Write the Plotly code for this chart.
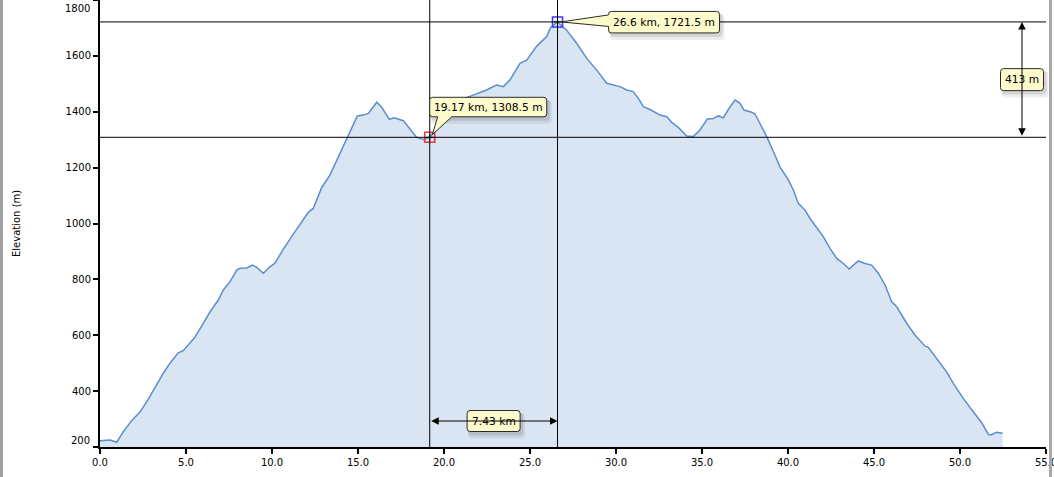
import plotly.graph_objects as go

# ---------------- data ----------------
distance_km = [
    0.0, 0.58, 0.97, 1.36, 1.84, 2.33, 2.81, 3.29, 3.68, 4.07, 4.55, 4.84, 5.14, 5.52,
    5.91, 6.40, 6.88, 7.17, 7.56, 7.95, 8.14, 8.53, 8.86, 9.11, 9.50, 9.88, 10.17,
    10.66, 11.24, 11.82, 12.11, 12.40, 12.89, 13.37, 13.95, 14.44, 14.96, 15.31, 15.60,
    16.09, 16.38, 16.82, 17.09, 17.64, 17.93, 18.41, 18.80, 19.17, 19.6, 20.0, 20.5,
    21.0, 21.5, 22.0, 22.48, 22.67, 23.06, 23.45, 23.84, 24.42, 24.81, 25.39, 25.97,
    26.2, 26.6, 27.13, 27.71, 28.30, 28.88, 29.46, 29.84, 30.23, 30.62, 31.0, 31.30,
    31.59, 31.98, 32.56, 32.95, 33.24, 33.62, 34.11, 34.49, 34.88, 35.31, 35.66, 35.95,
    36.24, 36.53, 36.92, 37.21, 37.44, 37.89, 38.08, 38.37, 38.76, 39.24, 39.53, 40.02,
    40.31, 40.60, 40.99, 41.28, 41.76, 42.05, 42.44, 42.83, 43.22, 43.56, 43.80, 44.09,
    44.48, 44.86, 45.25, 45.64, 46.03, 46.32, 46.90, 47.38, 47.97, 48.16, 48.64, 49.22,
    49.61, 50.19, 50.77, 51.26, 51.65, 51.84, 52.13, 52.48,
]
elevation_m = [
    222, 225, 217, 255, 294, 326, 371, 422, 464, 500, 537, 545, 565, 593,
    633, 684, 726, 762, 792, 833, 840, 841, 851, 843, 822, 845, 858,
    908, 962, 1012, 1040, 1054, 1129, 1173, 1251, 1319, 1385, 1388, 1394,
    1434, 1416, 1373, 1378, 1368, 1346, 1308, 1301, 1308.5, 1345, 1385, 1425,
    1445, 1455, 1466, 1478, 1484, 1496, 1490, 1514, 1573, 1585, 1635, 1669,
    1702, 1721.5, 1692, 1645, 1591, 1549, 1502, 1496, 1490, 1478, 1472, 1448,
    1418, 1408, 1388, 1382, 1362, 1344, 1313, 1311, 1335, 1374, 1376, 1385,
    1378, 1408, 1442, 1430, 1406, 1398, 1392, 1358, 1311, 1245, 1203, 1156,
    1120, 1072, 1048, 1018, 977, 953, 911, 875, 857, 837, 851, 866,
    857, 851, 822, 780, 720, 702, 643, 601, 561, 557, 517, 469,
    428, 374, 326, 287, 245, 244, 253, 249,
]

x_tick_vals = [0, 5, 10, 15, 20, 25, 30, 35, 40, 45, 50, 55]
x_tick_text = ["0.0", "5.0", "10.0", "15.0", "20.0", "25.0", "30.0", "35.0",
               "40.0", "45.0", "50.0", "55.0"]
y_tick_vals = [200, 400, 600, 800, 1000, 1200, 1400, 1600, 1800]
y_tick_text = ["200", "400", "600", "800", "1000", "1200", "1400", "1600", "1800"]

point_a_km, point_a_m = 19.17, 1308.5
point_b_km, point_b_m = 26.6, 1721.5

label_a = f"{point_a_km} km, {point_a_m} m"
label_b = f"{point_b_km} km, {point_b_m} m"
dist_label = f"{point_b_km - point_a_km:.2f} km"
rise_label = f"{point_b_m - point_a_m:.0f} m"

x_range = [0, 55]
y_range = [200, 1800]

# ---------------- style ----------------
FONT = "DejaVu Sans"
LINE_BLUE = "#5a8ed0"
FILL_BLUE = "#dae5f3"
BOX_YELLOW = "#fdfacb"
BOX_EDGE = "#2b2b2b"

W, H = 1054, 477
ML, MR, MT, MB = 100, 8, 0, 30
PW, PH = W - ML - MR, H - MT - MB


def px_to_paper_x(px):
    return (px - ML) / PW


def px_to_paper_y(py):
    return 1 - (py - MT) / PH


def box_path(L, R, B, T, r=3.0, wedge=None):
    s = f"M{L + r},{T} L{R - r},{T} Q{R},{T} {R},{T - r} L{R},{B + r} Q{R},{B} {R - r},{B} "
    if wedge and wedge[0] == "bottom":
        _, w1, w2, tx, ty = wedge
        s += f"L{w2},{B} L{tx},{ty} L{w1},{B} "
    s += f"L{L + r},{B} Q{L},{B} {L},{B + r} "
    if wedge and wedge[0] == "left":
        _, wb, wt, tx, ty = wedge
        s += f"L{L},{wb} L{tx},{ty} L{L},{wt} "
    s += f"L{L},{T - r} Q{L},{T} {L + r},{T} Z"
    return s


fig = go.Figure()

fig.add_trace(go.Scatter(
    x=distance_km, y=elevation_m, mode="lines",
    line=dict(color=LINE_BLUE, width=1.5),
    fill="tozeroy", fillcolor=FILL_BLUE,
    hoverinfo="skip", showlegend=False,
))

shapes = []

# crosshair lines
for xv in (point_a_km, point_b_km):
    shapes.append(dict(type="line", xref="x", yref="paper", x0=xv, x1=xv, y0=0, y1=1,
                       line=dict(color="black", width=1), layer="above"))
for yv in (point_a_m, point_b_m):
    shapes.append(dict(type="line", xref="paper", yref="y", x0=0, x1=1, y0=yv, y1=yv,
                       line=dict(color="black", width=1), layer="above"))


def add_box(xref, yref, xa, ya, L, R, B, T, wedge=None):
    # soft shadow
    for dx, dy, grow, alpha in ((3, -5, 2, 0.07), (2, -3, 1, 0.10)):
        shapes.append(dict(
            type="path", xref=xref, yref=yref, xsizemode="pixel", ysizemode="pixel",
            xanchor=xa, yanchor=ya,
            path=box_path(L + dx - grow, R + dx + grow, B + dy - grow, T + dy + grow, r=4),
            fillcolor=f"rgba(0,0,0,{alpha})", line=dict(width=0), layer="above"))
    shapes.append(dict(
        type="path", xref=xref, yref=yref, xsizemode="pixel", ysizemode="pixel",
        xanchor=xa, yanchor=ya, path=box_path(L, R, B, T, wedge=wedge),
        fillcolor=BOX_YELLOW, line=dict(color=BOX_EDGE, width=1), layer="above"))


# callout A (19.17 km)
add_box("x", "y", point_a_km, point_a_m, 0, 117, 20.5, 40,
        wedge=("bottom", 8, 22, 2.5, 2.5))
# callout B (26.6 km)
add_box("x", "y", point_b_km, point_b_m, 51, 162, -11, 10.5,
        wedge=("left", -4.5, 7, 3.5, 0))

# distance box
dist_y_paper = px_to_paper_y(421)
dist_x = (point_a_km + point_b_km) / 2
add_box("x", "paper", dist_x, dist_y_paper, -26.5, 26.5, -10.5, 10.5)

# rise box
rise_x_paper = px_to_paper_x(1022)
rise_y = (point_a_m + point_b_m) / 2
add_box("paper", "y", rise_x_paper, rise_y, -21.5, 21.5, -11, 11)

# window frame edges
shapes.append(dict(type="line", xref="paper", yref="paper",
                   x0=px_to_paper_x(1.5), x1=px_to_paper_x(1.5),
                   y0=px_to_paper_y(H), y1=px_to_paper_y(0),
                   line=dict(color="#a0a0a0", width=3), layer="above"))
shapes.append(dict(type="line", xref="paper", yref="paper",
                   x0=px_to_paper_x(1050.5), x1=px_to_paper_x(1050.5),
                   y0=px_to_paper_y(H), y1=px_to_paper_y(0),
                   line=dict(color="#a8a8a8", width=3), layer="above"))

# markers
fig.add_trace(go.Scatter(
    x=[point_a_km, point_b_km], y=[point_a_m, point_b_m], mode="markers",
    marker=dict(symbol="square-open", size=10, color=["#e8383d", "#3c3cf0"],
                line=dict(width=1.6)),
    hoverinfo="skip", showlegend=False, cliponaxis=False,
))
fig.add_trace(go.Scatter(
    x=[point_a_km, point_b_km], y=[point_a_m, point_b_m], mode="markers",
    marker=dict(symbol="cross-thin", size=5, color="#333333",
                line=dict(width=1.2, color="#333333")),
    hoverinfo="skip", showlegend=False, cliponaxis=False,
))

tf = dict(family=FONT, size=10.7, color="black")
C = dict(xanchor="center", yanchor="middle")
annotations = [
    dict(text=label_a, xref="x", yref="y", x=point_a_km, y=point_a_m,
         xshift=58.5, yshift=30.3, showarrow=False, font=tf, **C),
    dict(text=label_b, xref="x", yref="y", x=point_b_km, y=point_b_m,
         xshift=106.5, yshift=-0.3, showarrow=False, font=tf, **C),
    # distance arrow
    dict(text="", xref="x", yref="paper", x=point_b_km, y=dist_y_paper,
         axref="x", ayref="pixel", ax=point_a_km, ay=0, showarrow=True,
         arrowside="end+start", arrowhead=2, arrowsize=1.5, arrowwidth=1,
         arrowcolor="black", standoff=0, startstandoff=0),
    dict(text=dist_label, xref="x", yref="paper", x=dist_x, y=dist_y_paper,
         showarrow=False, font=tf, **C),
    # rise arrow
    dict(text="", xref="paper", yref="y", x=rise_x_paper, y=point_b_m,
         axref="pixel", ayref="y", ax=0, ay=point_a_m, showarrow=True,
         arrowside="end+start", arrowhead=2, arrowsize=1.5, arrowwidth=1,
         arrowcolor="black", standoff=0, startstandoff=0),
    dict(text=rise_label, xref="paper", yref="y", x=rise_x_paper, y=rise_y,
         showarrow=False, font=tf, **C),
    # axis title
    dict(text="Elevation (m)", xref="paper", yref="paper",
         x=px_to_paper_x(16), y=px_to_paper_y(224), textangle=-90,
         showarrow=False, font=dict(family=FONT, size=10, color="black"), **C),
    # end tick labels shifted inside the figure
    dict(text=y_tick_text[-1], xref="paper", yref="paper", x=px_to_paper_x(92),
         y=px_to_paper_y(8), xanchor="right", yanchor="middle", showarrow=False,
         font=dict(family=FONT, size=10, color="black")),
    dict(text=y_tick_text[0], xref="paper", yref="paper", x=px_to_paper_x(92),
         y=px_to_paper_y(440), xanchor="right", yanchor="middle", showarrow=False,
         font=dict(family=FONT, size=10, color="black")),
]

fig.update_layout(
    width=W, height=H, autosize=False,
    margin=dict(l=ML, r=MR, t=MT, b=MB, pad=0, autoexpand=False),
    paper_bgcolor="white", plot_bgcolor="white",
    shapes=shapes, annotations=annotations,
    font=dict(family=FONT, size=10, color="black"),
    xaxis=dict(range=x_range, tickvals=x_tick_vals, ticktext=x_tick_text,
               showgrid=False, zeroline=False, showline=True, linecolor="black",
               linewidth=2, ticks="outside", ticklen=5, tickwidth=2, tickcolor="black",
               automargin=False, ticklabeloverflow="allow",
               tickfont=dict(family=FONT, size=10, color="black")),
    yaxis=dict(range=y_range, tickvals=y_tick_vals,
               ticktext=[""] + y_tick_text[1:-1] + [""],
               showgrid=False, zeroline=False, showline=True, linecolor="black",
               linewidth=2, ticks="outside", ticklen=5, tickwidth=2, tickcolor="black",
               automargin=False,
               tickfont=dict(family=FONT, size=10, color="black")),
    showlegend=False,
)

fig.write_html(
    "out.html",
    config={"displayModeBar": False},
    post_script="document.body.style.margin='0px';document.body.style.overflow='hidden';",
)
